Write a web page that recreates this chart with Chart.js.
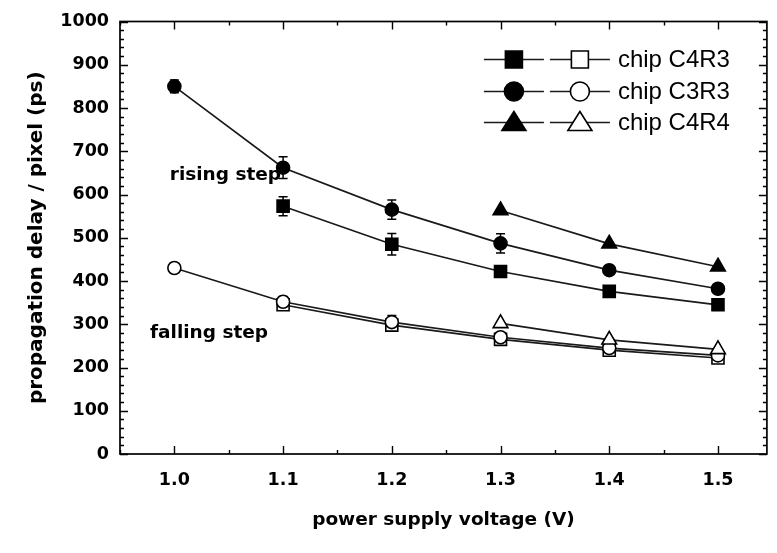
<!DOCTYPE html>
<html><head><meta charset="utf-8">
<script src="https://cdn.jsdelivr.net/npm/chart.js@4.4.0/dist/chart.umd.min.js"></script>
<style>html,body{margin:0;padding:0;background:#fff;}canvas{display:block;}</style>
</head><body>
<canvas id="c" width="777" height="553"></canvas>
<script>
// ---- data ----
const voltages = [1.0, 1.1, 1.2, 1.3, 1.4, 1.5];
const risingC4R3  = [null, 573, 485, 422, 376, 345];
const risingC3R3  = [850, 662, 565, 487, 425, 382];
const risingC4R4  = [null, null, null, 563, 486, 433];
const fallingC4R3 = [null, 345, 298, 265, 240, 222];
const fallingC3R3 = [430, 352, 305, 270, 245, 228];
const fallingC4R4 = [null, null, null, 302, 264, 242];
const errRisingC4R3  = [0, 22, 25, 12, 0, 0];
const errRisingC3R3  = [15, 25, 22, 22, 8, 10];
const errFallingC4R3 = [0, 10, 12, 10, 0, 6];
const errFallingC3R3 = [10, 12, 15, 10, 6, 8];
const xTickValues = [1.0, 1.1, 1.2, 1.3, 1.4, 1.5];
const yTickValues = [0, 100, 200, 300, 400, 500, 600, 700, 800, 900, 1000];
const legendLabels = ['chip C4R3', 'chip C3R3', 'chip C4R4'];
const annotationTexts = ['rising step', 'falling step'];
const annotationX = [1.1, 1.1];
const annotationY = [645, 280];

const BOLD = '"DejaVu Sans", "Liberation Sans", Arial, sans-serif';
const REG = '"Liberation Sans", Arial, Helvetica, sans-serif';

function pts(vals, errs) {
  const out = [];
  voltages.forEach((v, i) => {
    if (vals[i] !== null) out.push({x: v, y: vals[i], err: errs ? errs[i] : 0});
  });
  return out;
}

function ds(label, vals, errs, style, filled, radius) {
  return {
    label: label,
    data: pts(vals, errs),
    borderColor: '#1a1a1a',
    borderWidth: 1.7,
    pointStyle: style,
    pointRadius: radius,
    pointBackgroundColor: filled ? '#000' : '#fff',
    pointBorderColor: '#000',
    pointBorderWidth: 1.6,
    tension: 0,
    fill: false
  };
}

const datasets = [
  ds('falling C4R4', fallingC4R4, null, 'triangle', false, 8.5),
  ds('falling C3R3', fallingC3R3, errFallingC3R3, 'circle', false, 6.5),
  ds('falling C4R3', fallingC4R3, errFallingC4R3, 'rect', false, 8.5),
  ds('rising C4R4', risingC4R4, null, 'triangle', true, 8.5),
  ds('rising C3R3', risingC3R3, errRisingC3R3, 'circle', true, 6.5),
  ds('rising C4R3', risingC4R3, errRisingC4R3, 'rect', true, 8.5)
];

const errorBars = {
  id: 'errorBars',
  beforeDatasetsDraw(chart) {
    const ctx = chart.ctx, xs = chart.scales.x, ys = chart.scales.y;
    ctx.save();
    ctx.strokeStyle = '#000';
    ctx.lineWidth = 1.5;
    chart.data.datasets.forEach(d => {
      d.data.forEach(p => {
        if (!p.err) return;
        const px = xs.getPixelForValue(p.x);
        const y1 = ys.getPixelForValue(p.y - p.err), y2 = ys.getPixelForValue(p.y + p.err);
        ctx.beginPath();
        ctx.moveTo(px, y1); ctx.lineTo(px, y2);
        ctx.moveTo(px - 4.5, y1); ctx.lineTo(px + 4.5, y1);
        ctx.moveTo(px - 4.5, y2); ctx.lineTo(px + 4.5, y2);
        ctx.stroke();
      });
    });
    ctx.restore();
  }
};

function marker(ctx, st, x, y, filled) {
  ctx.save();
  ctx.beginPath();
  if (st === 'rect') {
    ctx.rect(x - 8.5, y - 8.5, 17, 17);
  } else if (st === 'circle') {
    ctx.arc(x, y, 9.5, 0, Math.PI * 2);
  } else {
    ctx.moveTo(x, y - 11); ctx.lineTo(x + 12, y + 8); ctx.lineTo(x - 12, y + 8); ctx.closePath();
  }
  ctx.fillStyle = filled ? '#000' : '#fff';
  ctx.fill();
  ctx.lineWidth = 1.6;
  ctx.strokeStyle = '#000';
  ctx.stroke();
  ctx.restore();
}

const frameTicks = {
  id: 'frameTicks',
  afterDraw(chart) {
    const ctx = chart.ctx, xs = chart.scales.x, ys = chart.scales.y;
    const a = chart.chartArea;
    ctx.save();
    ctx.strokeStyle = '#000';
    ctx.lineWidth = 1.7;
    ctx.strokeRect(a.left, a.top, a.right - a.left, a.bottom - a.top);
    ctx.lineWidth = 1.4;
    ctx.beginPath();
    for (let k = 19; k <= 31; k++) {
      const v = k * 0.05;
      if (v < xs.min - 1e-9 || v > xs.max + 1e-9) continue;
      const px = Math.round(xs.getPixelForValue(v)) + 0.5;
      const len = (k % 2 === 0) ? 8 : 4;
      ctx.moveTo(px, a.bottom); ctx.lineTo(px, a.bottom - len);
      ctx.moveTo(px, a.top); ctx.lineTo(px, a.top + len);
    }
    for (let v = 0; v <= 1000; v += 20) {
      const py = Math.round(ys.getPixelForValue(v)) + 0.5;
      const len = (v % 100 === 0) ? 8 : 4;
      ctx.moveTo(a.left, py); ctx.lineTo(a.left + len, py);
      ctx.moveTo(a.right, py); ctx.lineTo(a.right - len, py);
    }
    ctx.stroke();

    // annotations
    ctx.fillStyle = '#000';
    ctx.font = 'bold 18.5px ' + BOLD;
    ctx.textBaseline = 'middle';
    ctx.textAlign = 'right';
    annotationTexts.forEach((t, i) => {
      const px = xs.getPixelForValue(annotationX[i]) - (i === 0 ? 2 : 15);
      const py = ys.getPixelForValue(annotationY[i]);
      ctx.fillText(t, px, py);
    });

    // legend
    const styles = ['rect', 'circle', 'triangle'];
    const rowY = [a.top + 38, a.top + 70, a.top + 101];
    const fx = a.right - 253, ox = a.right - 187, tx = a.right - 149;
    ctx.font = '24px ' + REG;
    ctx.textAlign = 'left';
    styles.forEach((st, i) => {
      const y = rowY[i];
      ctx.lineWidth = 1.7;
      ctx.strokeStyle = '#1a1a1a';
      ctx.beginPath();
      ctx.moveTo(fx - 30, y); ctx.lineTo(fx + 30, y);
      ctx.moveTo(ox - 30, y); ctx.lineTo(ox + 30, y);
      ctx.stroke();
      marker(ctx, st, fx, y, true);
      marker(ctx, st, ox, y, false);
      ctx.fillStyle = '#000';
      ctx.fillText(legendLabels[i], tx, y + 1);
    });
    ctx.restore();
  }
};

new Chart(document.getElementById('c'), {
  type: 'line',
  data: {datasets: datasets},
  options: {
    responsive: false,
    animation: false,
    layout: {padding: {top: 18, right: 7, bottom: 0, left: 0}},
    plugins: {legend: {display: false}, tooltip: {enabled: false}},
    scales: {
      x: {
        type: 'linear', min: 0.95, max: 1.545,
        afterBuildTicks: s => { s.ticks = xTickValues.map(v => ({value: v})); },
        afterFit: s => { s.height = 99; },
        grid: {display: false, drawTicks: false},
        border: {display: false},
        ticks: {callback: v => v.toFixed(1), color: '#000', padding: 16, maxRotation: 0, autoSkip: false,
                font: {family: BOLD, size: 17.5, weight: 'bold'}},
        title: {display: true, text: 'power supply voltage (V)', color: '#000',
                font: {family: BOLD, size: 18.5, weight: 'bold'}, padding: {top: 0, bottom: 22}}
      },
      y: {
        type: 'linear', min: 0, max: 1000,
        afterBuildTicks: s => { s.ticks = yTickValues.map(v => ({value: v})); },
        afterFit: s => { s.width = 120; },
        grid: {display: false, drawTicks: false},
        border: {display: false},
        ticks: {callback: v => String(v), color: '#000', padding: 11, autoSkip: false,
                font: {family: BOLD, size: 17.5, weight: 'bold'}},
        title: {display: true, text: 'propagation delay / pixel (ps)', color: '#000',
                font: {family: BOLD, size: 20, weight: 'bold'}, padding: {top: 25, bottom: 0}}
      }
    }
  },
  plugins: [errorBars, frameTicks]
});
</script>
</body></html>
